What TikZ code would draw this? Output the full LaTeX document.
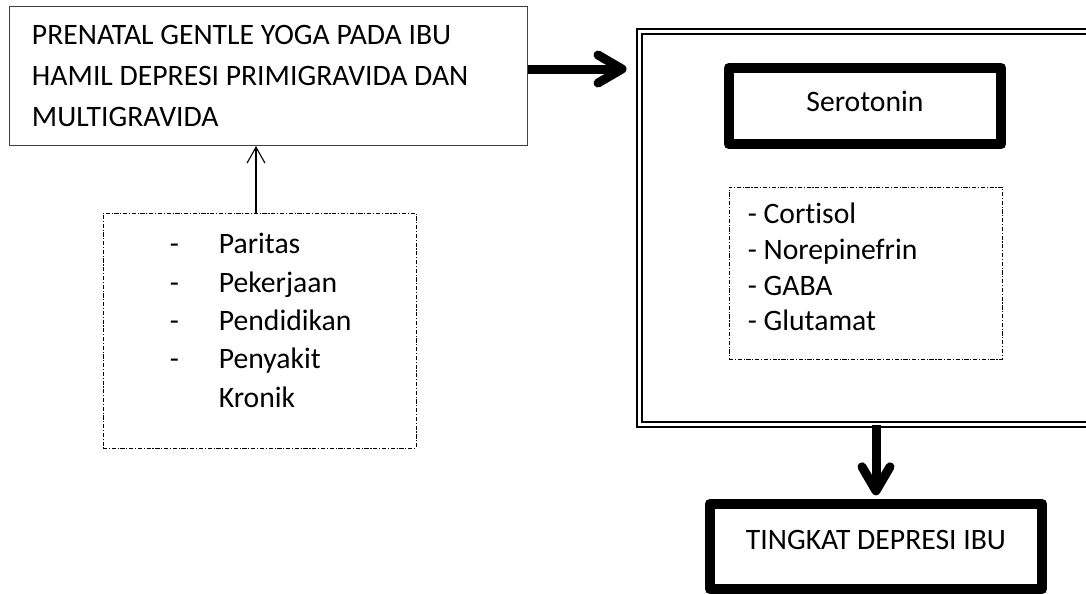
\documentclass[tikz,border=0pt]{standalone}
\usepackage{fontspec}
\setmainfont{Carlito}[Ligatures=NoCommon]
\usepackage{tikz}
\usetikzlibrary{arrows.meta}
\usetikzlibrary{positioning}

\begin{document}
\begin{tikzpicture}[kotak/.style={draw=black!75, line width=0.75pt, inner sep=0pt},
        putus/.style={draw, line width=0.6pt, dash pattern=on 3pt off 1.2pt on 0.8pt off 1.2pt},
        tebal/.style={draw, line width=7.8pt, line join=round},
        ganda/.style={draw, double, line width=1.4pt, double distance=2.1pt},
        teks/.style={inner sep=0pt, align=flush left},
        besar/.style={line width=6.4pt, -{Straight Barb[length=0.6cm,width=0.7cm,line cap=round,line join=round]}},
        kecil/.style={line width=0.8pt, -{Straight Barb[length=0.4cm,width=0.45cm]}},
        every node/.style={font=\fontsize{21.1}{29.2}\selectfont}
        ]
    \useasboundingbox (0,0) rectangle (27.15,-14.825);

    % left side
    \node[kotak, text width=11.825cm, inner xsep=0.5625cm, minimum height=3.475cm, align=flush left] (intervensi) at (6.7125,-1.9)
        {PRENATAL GENTLE YOGA PADA IBU\\HAMIL DEPRESI PRIMIGRAVIDA DAN\\MULTIGRAVIDA};
    \node[putus, minimum width=7.825cm, minimum height=5.875cm] (faktor) at (6.4875,-8.2625) {};
    \node[teks, font=\fontsize{21.1}{27.3}\selectfont, anchor=west] (daftar) at ([xshift=1.675cm,yshift=0.25cm]faktor.west)
        {\makebox[1.225cm][l]{-}Paritas\\
         \makebox[1.225cm][l]{-}Pekerjaan\\
         \makebox[1.225cm][l]{-}Pendidikan\\
         \makebox[1.225cm][l]{-}Penyakit\\
         \hspace*{1.225cm}Kronik};

    % right side, the outer frame runs past the page edge
    \node[ganda, minimum width=11.7625cm, minimum height=9.825cm] (wadah) at (21.86875,-5.7) {};
    \node[tebal, minimum width=6.8cm, minimum height=1.9cm, text depth=6.4pt] (serotonin) at (21.625,-2.65) {Serotonin};
    \node[putus, minimum width=6.825cm, minimum height=4.3cm] (zat) at (21.6375,-6.825) {};
    \node[teks, font=\fontsize{21.1}{25.4}\selectfont, anchor=west] (daftarzat) at ([xshift=0.475cm,yshift=0.15cm]zat.west)
        {- Cortisol\\- Norepinefrin\\- GABA\\- Glutamat};
    \node[tebal, minimum width=8.3cm, minimum height=2.125cm, text depth=9.2pt] (hasil) at (21.9,-13.6625) {TINGKAT DEPRESI IBU};

    % arrows
    \draw[kecil] ([xshift=-0.0875cm]faktor.north) -- ([xshift=-0.0875cm]faktor.north |- intervensi.south);
    \draw[besar, shorten >=0.3cm] ([yshift=0.175cm]intervensi.east) -- ([yshift=0.175cm]intervensi.east -| wadah.west);
    \draw[besar, shorten >=0.08cm] (hasil.north |- wadah.south) -- (hasil.north);
\end{tikzpicture}
\end{document}
